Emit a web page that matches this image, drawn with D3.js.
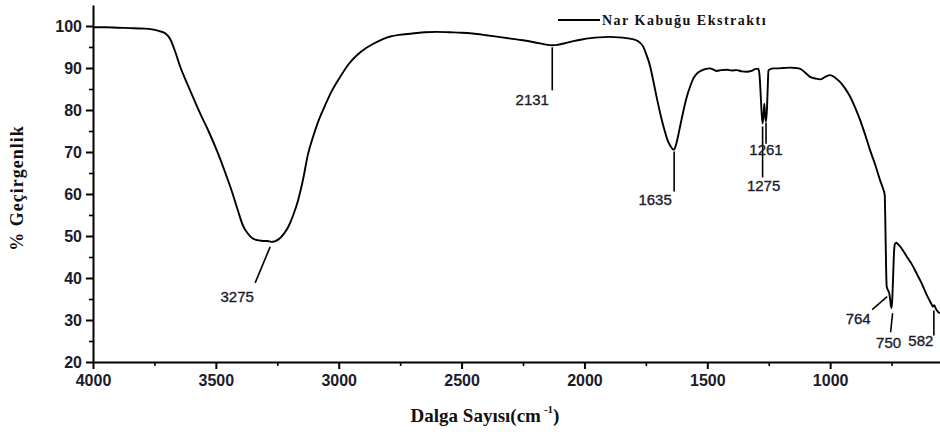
<!DOCTYPE html>
<html>
<head>
<meta charset="utf-8">
<script src="https://cdn.jsdelivr.net/npm/d3@7"></script>
<style>
  html, body { margin: 0; padding: 0; background: #fff; }
  svg { display: block; }
</style>
</head>
<body>
<svg id="chart" width="940" height="436"></svg>
<script>
// FTIR spectrum of pomegranate peel extract: wavenumber (cm-1) vs. % transmittance
const wavenumber = [
  4000, 3950, 3900, 3850, 3800, 3760, 3730, 3705, 3685, 3665, 3645, 3625, 3600, 3565, 3530,
  3497, 3465, 3433, 3410, 3390, 3370, 3350, 3330, 3305, 3290, 3275, 3258, 3245, 3225, 3205,
  3185, 3165, 3145, 3125, 3105, 3085, 3060, 3030, 2995, 2960, 2925, 2890, 2855, 2820, 2790,
  2755, 2700, 2650, 2600, 2550, 2500, 2455, 2400, 2350, 2300, 2250, 2210, 2175, 2150, 2131,
  2110, 2080, 2045, 2010, 1975, 1940, 1900, 1860, 1830, 1800, 1780, 1762, 1748, 1733, 1720,
  1706, 1692, 1678, 1664, 1650, 1638, 1635, 1628, 1620, 1610, 1598, 1585, 1570, 1556, 1540,
  1520, 1505, 1489, 1475, 1462, 1445, 1420, 1400, 1380, 1360, 1340, 1320, 1302, 1292, 1287,
  1283, 1279, 1275, 1271, 1268, 1265, 1261, 1257, 1254, 1251, 1245, 1230, 1217, 1190, 1163,
  1140, 1122, 1100, 1082, 1060, 1040, 1020, 1000, 980, 960, 940, 919, 898, 878, 858,
  838, 818, 797, 785, 778, 776, 774, 772, 770, 767, 764, 760, 756, 753, 750,
  747, 744, 741, 737, 731, 725, 715, 700, 685, 668, 650, 630, 607, 595, 586,
  582, 576, 570, 562, 553
];
const transmittance = [
  99.7, 99.7, 99.6, 99.5, 99.4, 99.2, 98.8, 98.2, 96.8, 93.8, 90.3, 87.4, 84.0, 79.3, 75.0,
  70.5, 65.6, 60.3, 56.0, 52.5, 50.6, 49.4, 49.0, 48.8, 48.8, 48.6, 48.8, 49.2, 50.4, 52.2,
  55.0, 58.6, 63.5, 69.5, 73.5, 77.0, 80.5, 84.3, 87.8, 90.9, 93.1, 94.7, 95.9, 96.9, 97.5,
  97.9, 98.2, 98.5, 98.6, 98.5, 98.4, 98.2, 97.8, 97.4, 97.0, 96.6, 96.2, 95.8, 95.5, 95.4,
  95.5, 95.9, 96.4, 96.8, 97.1, 97.3, 97.4, 97.3, 97.1, 96.8, 96.3, 95.2, 93.2, 90.5, 87.0,
  83.0, 79.3, 76.0, 73.2, 71.4, 70.6, 70.6, 71.6, 73.5, 76.3, 79.6, 82.8, 85.6, 87.6, 88.8,
  89.5, 89.8, 89.9, 89.6, 89.3, 89.5, 89.6, 89.4, 89.5, 89.2, 89.1, 89.3, 89.8, 89.8, 88.0,
  84.0, 79.5, 76.8, 78.8, 81.5, 79.0, 77.2, 80.5, 85.5, 89.4, 89.7, 89.9, 89.9, 90.0, 90.1,
  90.0, 89.8, 88.8, 87.9, 87.5, 87.3, 87.9, 88.3, 87.7, 86.7, 85.2, 83.2, 80.5, 77.6, 74.2,
  70.5, 67.2, 63.3, 61.3, 59.8, 55.0, 48.0, 41.5, 38.0, 37.4, 37.0, 36.5, 35.0, 33.4, 32.8,
  35.2, 40.0, 45.0, 48.0, 48.4, 48.1, 47.5, 46.2, 44.8, 43.3, 41.3, 39.0, 36.0, 34.6, 33.6,
  33.2, 33.5, 32.7, 32.0, 31.6
];

// Labelled absorption bands (cm-1)
const peakWavenumbers = [3275, 2131, 1635, 1275, 1261, 764, 750, 582];
const peakLabels = ["3275", "2131", "1635", "1275", "1261", "764", "750", "582"];

// Axis ticks
const xTicks = [4000, 3500, 3000, 2500, 2000, 1500, 1000];
const xMinorTicks = [3750, 3250, 2750, 2250, 1750, 1250, 750];
const yTicks = [20, 30, 40, 50, 60, 70, 80, 90, 100];
const yMinorTicks = [25, 35, 45, 55, 65, 75, 85, 95];

const seriesName = "Nar Kabuğu Ekstraktı";
const xTitle = "Dalga Sayısı(cm";
const xTitleSup = "-1";
const yTitle = "% Geçirgenlik";

const spectrum = wavenumber.map((w, i) => ({ w, t: transmittance[i] }));

const svg = d3.select("#chart");
const x = d3.scaleLinear().domain([4000, 553]).range([93, 940]);
const y = d3.scaleLinear().domain([20, 105]).range([362, 5]);

const sans = "'Liberation Sans', Arial, sans-serif";
const serif = "'Liberation Serif', 'Times New Roman', serif";
const labelColor = "#1b1b2c";

// Minor ticks
svg.append("g")
  .attr("transform", `translate(${x.range()[0]},0)`)
  .call(d3.axisLeft(y).tickValues(yMinorTicks).tickSize(4).tickFormat(""))
  .call(g => g.select(".domain").remove())
  .call(g => g.selectAll("line").attr("stroke", "#000").attr("stroke-width", 1.6));
svg.append("g")
  .attr("transform", `translate(0,${y.range()[0]})`)
  .call(d3.axisBottom(x).tickValues(xMinorTicks).tickSize(4).tickFormat(""))
  .call(g => g.select(".domain").remove())
  .call(g => g.selectAll("line").attr("stroke", "#000").attr("stroke-width", 1.6));

// Major axes
const yAxis = svg.append("g")
  .attr("transform", `translate(${x.range()[0]},0)`)
  .call(d3.axisLeft(y).tickValues(yTicks).tickFormat(d3.format("d"))
    .tickSize(7).tickSizeOuter(0).tickPadding(4));
const xAxis = svg.append("g")
  .attr("transform", `translate(0,${y.range()[0]})`)
  .call(d3.axisBottom(x).tickValues(xTicks).tickFormat(d3.format("d"))
    .tickSize(7).tickSizeOuter(0).tickPadding(6));

[yAxis, xAxis].forEach(g => {
  g.select(".domain").attr("stroke", "#000").attr("stroke-width", 2);
  g.selectAll(".tick line").attr("stroke", "#000").attr("stroke-width", 2);
  g.selectAll(".tick text")
    .attr("fill", labelColor)
    .style("font-family", sans)
    .style("font-size", "16px")
    .style("font-weight", "bold");
});

// Spectrum line
const line = d3.line()
  .x(d => x(d.w))
  .y(d => y(d.t))
  .curve(d3.curveMonotoneX);

svg.append("path")
  .datum(spectrum)
  .attr("fill", "none")
  .attr("stroke", "#000")
  .attr("stroke-width", 1.9)
  .attr("stroke-linejoin", "round")
  .attr("d", line);

// Peak leader lines and labels (offsets in px from the band minimum)
const leaderLayout = {
  "3275": { start: [-1, 5], end: [-16, 41], text: [-34, 60] },
  "2131": { start: [0, 2], end: [0, 45], text: [-20, 60] },
  "1635": { start: [0, 2], end: [0, 42], text: [-19, 56] },
  "1275": { start: [0, 3], end: [0, 54], text: [1, 68] },
  "1261": { start: [0, 1], end: [0, 22], text: [0, 33] },
  "764":  { start: [-1, 6], end: [-16, 19], text: [-30, 33] },
  "750":  { start: [1, 5], end: [-1, 24], text: [-3, 40] },
  "582":  { start: [1, 4], end: [1, 29], text: [-12, 39] }
};

const tAt = w => spectrum.find(d => d.w === w).t;

peakWavenumbers.forEach((w, i) => {
  const px = x(w), py = y(tAt(w));
  const L = leaderLayout[peakLabels[i]];
  svg.append("line")
    .attr("x1", px + L.start[0]).attr("y1", py + L.start[1])
    .attr("x2", px + L.end[0]).attr("y2", py + L.end[1])
    .attr("stroke", "#000").attr("stroke-width", 1.6);
  svg.append("text")
    .attr("x", px + L.text[0]).attr("y", py + L.text[1])
    .attr("text-anchor", "middle")
    .attr("fill", labelColor)
    .attr("stroke", labelColor)
    .attr("stroke-width", 0.35)
    .style("font-family", sans)
    .style("font-size", "15px")
    .text(peakLabels[i]);
});

// Legend
svg.append("line")
  .attr("x1", 558).attr("x2", 600).attr("y1", 20).attr("y2", 20)
  .attr("stroke", "#000").attr("stroke-width", 2);
svg.append("text")
  .attr("x", 602).attr("y", 25)
  .attr("fill", "#111")
  .style("font-family", serif)
  .style("font-size", "14px")
  .style("font-weight", "bold")
  .style("letter-spacing", "1.5px")
  .text(seriesName);

// Axis titles
const xt = svg.append("text")
  .attr("x", 485).attr("y", 422)
  .attr("text-anchor", "middle")
  .attr("fill", "#111")
  .style("font-family", serif)
  .style("font-size", "19px")
  .style("font-weight", "bold");
xt.append("tspan").text(xTitle);
xt.append("tspan").attr("dx", 3).attr("dy", -9).style("font-size", "11px").text(xTitleSup);
xt.append("tspan").attr("dy", 9).text(")");

svg.append("text")
  .attr("transform", "translate(23,188) rotate(-90)")
  .attr("text-anchor", "middle")
  .attr("fill", "#111")
  .style("font-family", serif)
  .style("font-size", "18px")
  .style("font-weight", "bold")
  .style("letter-spacing", "1px")
  .text(yTitle);
</script>
</body>
</html>
